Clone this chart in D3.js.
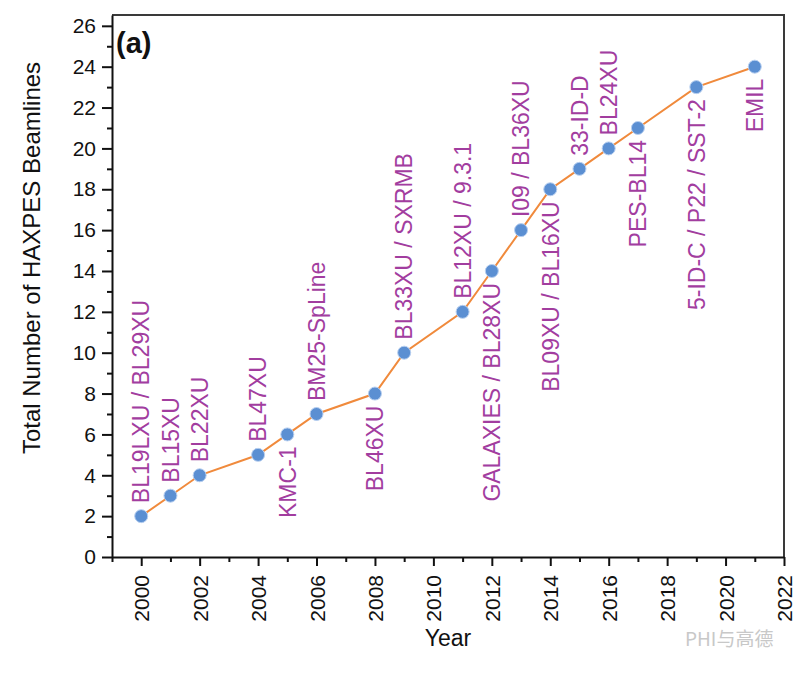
<!DOCTYPE html>
<html>
<head>
<meta charset="utf-8">
<script src="https://cdn.jsdelivr.net/npm/d3@7"></script>
<style>
  html, body { margin: 0; padding: 0; background: #fff; }
  svg { display: block; font-family: Arial, "Liberation Sans", Helvetica, sans-serif; }
</style>
</head>
<body>
<svg id="chart" width="806" height="673"></svg>
<script>
const years  = [2000, 2001, 2002, 2004, 2005, 2006, 2008, 2009, 2011, 2012, 2013, 2014, 2015, 2016, 2017, 2019, 2021];
const totals = [2, 3, 4, 5, 6, 7, 8, 10, 12, 14, 16, 18, 19, 20, 21, 23, 24];
const beamlines = [
  "BL19LXU / BL29XU", "BL15XU", "BL22XU", "BL47XU", "KMC-1", "BM25-SpLine",
  "BL46XU", "BL33XU / SXRMB", "BL12XU / 9.3.1", "GALAXIES / BL28XU",
  "I09 / BL36XU", "BL09XU / BL16XU", "33-ID-D", "BL24XU", "PES-BL14",
  "5-ID-C / P22 / SST-2", "EMIL"
];
const labelSide = ["up","up","up","up","down","up","down","up","up","down","up","down","up","up","down","down","down"];
const xTicks = [2000, 2002, 2004, 2006, 2008, 2010, 2012, 2014, 2016, 2018, 2020, 2022];
const yTicks = [0, 2, 4, 6, 8, 10, 12, 14, 16, 18, 20, 22, 24, 26];
const xTitle = "Year";
const yTitle = "Total Number of HAXPES Beamlines";
const panelTag = "(a)";

const W = 806, H = 673;
const m = { left: 112, top: 15, right: 22, bottom: 116 };
const iw = W - m.left - m.right, ih = H - m.top - m.bottom;

const svg = d3.select("#chart");
const g = svg.append("g").attr("transform", `translate(${m.left},${m.top})`);

const x = d3.scaleLinear().domain([1999, 2022]).range([0, iw]);
const y = d3.scaleLinear().domain([0, 26.53]).range([ih, 0]);

// frame top & right
g.append("path")
  .attr("d", `M0,0H${iw}V${ih}`)
  .attr("fill", "none").attr("stroke", "#3a3a3a").attr("stroke-width", 2);

// minor ticks
const xMinor = d3.range(1999, 2023, 1).filter(v => !xTicks.includes(v));
const yMinor = d3.range(1, 27, 1).filter(v => !yTicks.includes(v));

const xAxisMinor = g.append("g").attr("transform", `translate(0,${ih})`)
  .call(d3.axisBottom(x).tickValues(xMinor).tickSize(5).tickFormat(""));
const yAxisMinor = g.append("g")
  .call(d3.axisLeft(y).tickValues(yMinor).tickSize(5).tickFormat(""));
[xAxisMinor, yAxisMinor].forEach(a => {
  a.select(".domain").remove();
  a.selectAll("line").attr("stroke", "#111").attr("stroke-width", 2);
});

// major axes
const xAxis = g.append("g").attr("transform", `translate(0,${ih})`)
  .call(d3.axisBottom(x).tickValues(xTicks).tickSize(9).tickSizeOuter(0).tickFormat(d3.format("d")));
xAxis.selectAll("text")
  .attr("transform", "rotate(-90)")
  .attr("x", -18).attr("y", 0).attr("dy", "0.36em")
  .attr("text-anchor", "end")
  .attr("font-size", 21).attr("fill", "#111");

const yAxis = g.append("g")
  .call(d3.axisLeft(y).tickValues(yTicks).tickSize(10).tickSizeOuter(0).tickPadding(6));
yAxis.selectAll("text").attr("font-size", 21).attr("fill", "#111");

[xAxis, yAxis].forEach(a => {
  a.select(".domain").attr("stroke", "#111").attr("stroke-width", 2);
  a.selectAll("line").attr("stroke", "#111").attr("stroke-width", 2);
});

// line
const pts = years.map((yr, i) => ({ yr, v: totals[i], name: beamlines[i], side: labelSide[i] }));
g.append("path")
  .datum(pts)
  .attr("fill", "none")
  .attr("stroke", "#f08a3c")
  .attr("stroke-width", 2)
  .attr("d", d3.line().x(d => x(d.yr)).y(d => y(d.v)));

// labels
g.selectAll("text.lbl").data(pts).join("text")
  .attr("class", "lbl")
  .attr("transform", d => `translate(${x(d.yr)},${y(d.v) + (d.side === "up" ? -13 : 12)}) rotate(-90)`)
  .attr("text-anchor", d => d.side === "up" ? "start" : "end")
  .attr("dy", "0.36em")
  .attr("font-size", 23)
  .attr("fill", "#a23d9f")
  .text(d => d.name);

// markers
g.selectAll("circle.pt").data(pts).join("circle")
  .attr("class", "pt")
  .attr("cx", d => x(d.yr)).attr("cy", d => y(d.v))
  .attr("r", 6.5)
  .attr("fill", "#5b8fd2")
  .attr("stroke", "#b7cff0").attr("stroke-width", 1);

// panel tag
g.append("text").attr("x", 4).attr("y", 38)
  .attr("font-size", 29).attr("font-weight", "bold").attr("fill", "#111")
  .text(panelTag);

// axis titles
svg.append("text")
  .attr("x", m.left + x(2010.5)).attr("y", 646)
  .attr("text-anchor", "middle").attr("font-size", 23).attr("fill", "#111")
  .text(xTitle);
svg.append("text")
  .attr("transform", `translate(40,258) rotate(-90)`)
  .attr("text-anchor", "middle").attr("font-size", 24).attr("fill", "#111")
  .text(yTitle);

// watermark
svg.append("text")
  .attr("x", 685).attr("y", 646)
  .attr("font-size", 19).attr("fill", "#c8c8c8")
  .attr("font-family", "'Noto Sans CJK SC', sans-serif")
  .text("PHI与高德");
</script>
</body>
</html>
